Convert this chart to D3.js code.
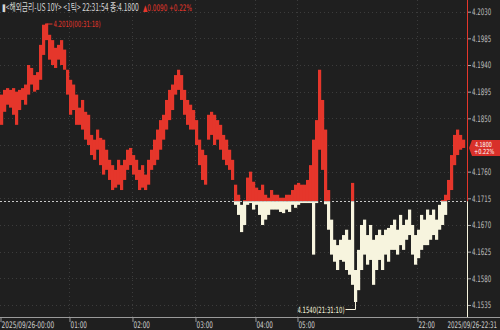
<!DOCTYPE html>
<html>
<head>
<meta charset="utf-8">
<script src="https://cdn.jsdelivr.net/npm/d3@7"></script>
<style>
  html, body { margin: 0; padding: 0; background: #1f1f1f; }
  svg { display: block; font-family: "Noto Sans CJK KR", "DejaVu Sans", sans-serif; }
</style>
</head>
<body>
<svg id="chart"></svg>
<script>
// high / low of each column (1 column ~ a few minutes of ticks)
const hi = [4.1890,4.1898,4.1901,4.1898,4.1901,4.1895,4.1898,4.1901,4.1907,4.1940,
            4.1935,4.1923,4.1928,4.1974,4.2008,4.2010,4.1991,4.1982,4.1969,4.1974,
            4.1982,4.1966,4.1932,4.1915,4.1907,4.1890,4.1868,4.1881,4.1861,4.1856,
            4.1822,4.1814,4.1831,4.1817,4.1814,4.1797,4.1780,4.1771,4.1763,4.1780,
            4.1771,4.1780,4.1797,4.1800,4.1788,4.1780,4.1763,4.1771,4.1755,4.1780,
            4.1797,4.1814,4.1831,4.1847,4.1856,4.1881,4.1898,4.1907,4.1923,4.1932,
            4.1923,4.1898,4.1881,4.1873,4.1864,4.1847,4.1814,4.1797,4.1788,4.1856,
            4.1861,4.1856,4.1847,4.1839,4.1822,4.1814,4.1797,4.1780,4.1738,4.1721,
            4.1704,4.1712,4.1750,4.1760,4.1743,4.1733,4.1729,4.1738,4.1721,4.1716,
            4.1729,4.1721,4.1721,4.1716,4.1716,4.1721,4.1721,4.1729,4.1738,4.1741,
            4.1738,4.1738,4.1746,4.1771,4.1814,4.1847,4.1932,4.1881,4.1831,4.1729,
            4.1679,4.1645,4.1636,4.1645,4.1653,4.1662,4.1645,4.1741,4.1594,4.1628,
            4.1670,4.1679,4.1653,4.1670,4.1645,4.1653,4.1662,4.1653,4.1662,4.1665,
            4.1670,4.1679,4.1662,4.1687,4.1670,4.1679,4.1696,4.1670,4.1653,4.1662,
            4.1687,4.1679,4.1696,4.1687,4.1696,4.1679,4.1704,4.1712,4.1721,4.1746,
            4.1788,4.1822,4.1831,4.1822,4.1814];
const lo = [4.1839,4.1861,4.1873,4.1868,4.1856,4.1839,4.1864,4.1881,4.1873,4.1890,
            4.1907,4.1895,4.1898,4.1915,4.1957,4.1982,4.1949,4.1940,4.1935,4.1949,
            4.1940,4.1932,4.1890,4.1856,4.1864,4.1839,4.1839,4.1831,4.1814,4.1805,
            4.1788,4.1780,4.1797,4.1771,4.1755,4.1763,4.1746,4.1729,4.1733,4.1738,
            4.1729,4.1746,4.1763,4.1771,4.1755,4.1746,4.1729,4.1733,4.1729,4.1738,
            4.1763,4.1771,4.1780,4.1797,4.1814,4.1831,4.1847,4.1864,4.1890,4.1898,
            4.1881,4.1856,4.1839,4.1831,4.1831,4.1805,4.1771,4.1746,4.1738,4.1814,
            4.1822,4.1805,4.1814,4.1797,4.1780,4.1771,4.1763,4.1746,4.1704,4.1687,
            4.1658,4.1670,4.1704,4.1707,4.1696,4.1704,4.1687,4.1670,4.1679,4.1687,
            4.1696,4.1696,4.1696,4.1692,4.1690,4.1696,4.1692,4.1704,4.1699,4.1704,
            4.1707,4.1707,4.1707,4.1707,4.1620,4.1707,4.1797,4.1763,4.1705,4.1662,
            4.1620,4.1608,4.1594,4.1611,4.1608,4.1594,4.1586,4.1569,4.1540,4.1560,
            4.1594,4.1620,4.1603,4.1611,4.1569,4.1594,4.1611,4.1594,4.1620,4.1608,
            4.1628,4.1628,4.1620,4.1636,4.1628,4.1645,4.1653,4.1620,4.1603,4.1614,
            4.1628,4.1636,4.1636,4.1645,4.1653,4.1645,4.1662,4.1670,4.1687,4.1712,
            4.1729,4.1771,4.1788,4.1797,4.1800];

const prevClose = 4.1710;
const last = 4.1800;
const yTicks = [4.2030, 4.1985, 4.1940, 4.1895, 4.1850, 4.1805, 4.1760, 4.1715, 4.1670, 4.1625, 4.1580, 4.1535];
const hiddenTick = 4.1805; // covered by the last-price box
const xTickIdx = [0, 23, 44, 65, 85, 99, 139];
const xTickLabels = ["2025/09/26-00:00", "01:00", "02:00", "03:00", "04:00", "05:00", "22:00"];
const endLabel = "2025/09/26-22:31";
const highIdx = 15, lowIdx = 118;

const width = 500, height = 330;
const plotRight = 467, plotBottom = 317;
const red = "#e5362b", cream = "#f7f4de", bg = "#1f1f1f";
const numFont = "'DejaVu Sans Condensed', 'DejaVu Sans', sans-serif";

// the original uses a narrow bitmap font: squeeze each text horizontally to a target width
function squeeze(sel, target) {
  sel.each(function () {
    const t = d3.select(this);
    const w = this.getComputedTextLength();
    const want = typeof target === "function" ? target(this.textContent) : target;
    const k = Math.min(1, want / w);
    const x0 = +t.attr("x") || 0;
    t.attr("transform", `translate(${x0 * (1 - k)},0) scale(${k},1)`);
  });
}
const perChar = p => s => s.length * p;

const svg = d3.select("#chart").attr("width", width).attr("height", height);
svg.append("rect").attr("width", width).attr("height", height).attr("fill", bg);

const x = d3.scaleLinear().domain([0, 155.67]).range([0, plotRight]);
const y = d3.scaleLinear().domain([4.15147, 4.20497]).range([plotBottom, 0]);
const colW = x(1) - x(0);

// grid
svg.append("g").selectAll("line").data(yTicks).join("line")
  .attr("x1", 0).attr("x2", plotRight)
  .attr("y1", d => Math.round(y(d)) + 0.5).attr("y2", d => Math.round(y(d)) + 0.5)
  .attr("stroke", "#3c3c3c").attr("stroke-dasharray", "1,3");
svg.append("g").selectAll("line").data(xTickIdx.slice(1)).join("line")
  .attr("x1", d => Math.round(x(d)) + 0.5).attr("x2", d => Math.round(x(d)) + 0.5)
  .attr("y1", 0).attr("y2", plotBottom)
  .attr("stroke", "#3c3c3c").attr("stroke-dasharray", "1,3");

// clips above / below previous close
const base = y(prevClose);
const defs = svg.append("defs");
defs.append("clipPath").attr("id", "up").append("rect")
  .attr("x", 0).attr("y", 0).attr("width", plotRight).attr("height", base);
defs.append("clipPath").attr("id", "down").append("rect")
  .attr("x", 0).attr("y", base).attr("width", plotRight).attr("height", plotBottom - base);

[["up", red], ["down", cream]].forEach(([id, col]) => {
  svg.append("g").attr("clip-path", `url(#${id})`)
    .selectAll("rect").data(hi).join("rect")
    .attr("x", (d, i) => x(i))
    .attr("width", colW + 0.2)
    .attr("y", d => y(d))
    .attr("height", (d, i) => Math.max(1, y(lo[i]) - y(d)))
    .attr("fill", col);
});

// previous close dotted line
svg.append("line")
  .attr("x1", 0).attr("x2", plotRight)
  .attr("y1", Math.round(base) + 0.5).attr("y2", Math.round(base) + 0.5)
  .attr("stroke", "#c8c8c8").attr("stroke-dasharray", "2,2");

// current position line
svg.append("line").attr("x1", plotRight + 0.5).attr("x2", plotRight + 0.5)
  .attr("y1", 0).attr("y2", base).attr("stroke", red);
svg.append("line").attr("x1", plotRight + 0.5).attr("x2", plotRight + 0.5)
  .attr("y1", base).attr("y2", plotBottom).attr("stroke", cream);

// y axis
const yAxis = d3.axisRight(y).tickValues(yTicks.filter(d => d !== hiddenTick))
  .tickFormat(d3.format(".4f")).tickSize(3).tickPadding(1);
const gy = svg.append("g").attr("transform", `translate(${plotRight + 1},0)`).call(yAxis);
gy.select(".domain").remove();
gy.selectAll("line").attr("stroke", "#aaa");
gy.selectAll("text").attr("fill", "#bdbdbd").style("font-size", "9px").style("font-family", numFont)
  .call(squeeze, perChar(3.2));

// x axis
const xAxis = d3.axisBottom(x).tickValues(xTickIdx).tickFormat((d, i) => xTickLabels[i]).tickSize(5).tickPadding(1);
const gx = svg.append("g").attr("transform", `translate(0,${plotBottom})`).call(xAxis);
gx.select(".domain").attr("d", `M0,0.5H${width}`).attr("stroke", "#9a9a9a");
gx.selectAll(".tick line").attr("stroke", "#9a9a9a").attr("transform", "translate(0.5,0)");
gx.selectAll(".tick text").attr("fill", "#cfcfcf").attr("text-anchor", "start").attr("x", 1).attr("dy", "0.55em")
  .style("font-size", "9px").style("font-family", numFont).call(squeeze, perChar(3.3));
svg.append("text").attr("x", 497).attr("y", plotBottom + 11).attr("text-anchor", "end")
  .attr("fill", "#cfcfcf").style("font-size", "9px").style("font-family", numFont)
  .text(endLabel).call(squeeze, perChar(3.1));

// last price box
const ly = y(last);
svg.append("path")
  .attr("d", `M${plotRight + 2},${ly} L${plotRight + 5},${ly - 8} H500 V${ly + 8} H${plotRight + 5} Z`)
  .attr("fill", "#d8302a");
svg.append("text").attr("x", 475).attr("y", ly - 1)
  .attr("fill", "#fff").style("font-size", "7px").style("font-family", numFont)
  .text(last.toFixed(4)).call(squeeze, perChar(2.8));
svg.append("text").attr("x", 474).attr("y", ly + 6.5)
  .attr("fill", "#fff").style("font-size", "7px").style("font-family", numFont)
  .text("+0.22%").call(squeeze, perChar(3.4));

// high / low annotations
const hx = x(highIdx) + colW / 2, hy = y(hi[highIdx]);
svg.append("line").attr("x1", hx).attr("x2", hx + 6).attr("y1", hy + 0.5).attr("y2", hy + 0.5).attr("stroke", red);
svg.append("text").attr("x", hx + 7).attr("y", hy + 3).attr("fill", red).style("font-size", "8.5px")
  .style("font-family", numFont)
  .text(`${hi[highIdx].toFixed(4)}(00:31:18)`).call(squeeze, perChar(2.95));

const lx = x(lowIdx) + colW / 2, lyy = y(lo[lowIdx]);
svg.append("path").attr("d", `M${lx},${lyy} V${lyy + 7.5} H${lx - 10}`)
  .attr("fill", "none").attr("stroke", cream);
svg.append("text").attr("x", lx - 11).attr("y", lyy + 10.5).attr("text-anchor", "end").attr("fill", cream)
  .style("font-size", "8.5px").style("font-family", numFont)
  .text(`${lo[lowIdx].toFixed(4)}(21:31:10)`).call(squeeze, perChar(2.95));

// title
svg.append("text").attr("x", 2).attr("y", 11).style("font-size", "10px").attr("fill", "#d6d6d6")
  .text("▮<해외금리-US 10Y> <1틱> 22:31:54 종:4.1800").call(squeeze, 137);
svg.append("text").attr("x", 143).attr("y", 11).style("font-size", "9px").attr("fill", red)
  .style("font-family", numFont).text("▲0.0090 +0.22%").call(squeeze, 49);
</script>
</body>
</html>
